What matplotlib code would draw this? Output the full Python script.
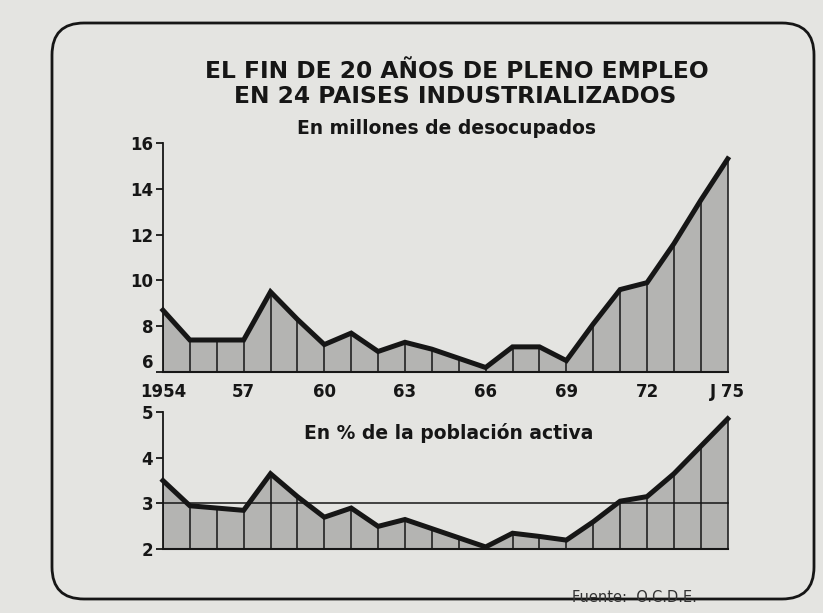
import matplotlib.pyplot as plt
from matplotlib.patches import FancyBboxPatch

# Data (1954 .. June 1975)
years = list(range(1954, 1976))
desocupados = [8.7, 7.4, 7.4, 7.4, 9.5, 8.3, 7.2, 7.7, 6.9, 7.3, 7.0, 6.6,
               6.2, 7.1, 7.1, 6.5, 8.1, 9.6, 9.9, 11.6, 13.5, 15.3]
porcentaje = [3.5, 2.95, 2.9, 2.85, 3.65, 3.15, 2.7, 2.9, 2.5, 2.65, 2.45, 2.25,
              2.05, 2.35, 2.28, 2.2, 2.6, 3.05, 3.15, 3.65, 4.25, 4.85]
xtick_pos = [1954, 1957, 1960, 1963, 1966, 1969, 1972, 1975]
xtick_lbl = ['1954', '57', '60', '63', '66', '69', '72', 'J 75']
ref_level = 3.0

BG = '#e4e4e1'
FILL = '#b4b4b2'
INK = '#161616'
plt.rcParams['font.family'] = ['DejaVu Sans']

fig = plt.figure(figsize=(8.23, 6.13), dpi=100, facecolor=BG)

# rounded frame
frame = FancyBboxPatch((0.52, 0.14), 7.62, 5.76, boxstyle='round,pad=0,rounding_size=0.32',
                       transform=fig.dpi_scale_trans, fill=False, lw=2, ec=INK)
fig.patches.append(frame)

fig.text(0.555, 0.884, 'EL FIN DE 20 AÑOS DE PLENO EMPLEO', ha='center', va='center',
         fontsize=16.8, fontweight='bold', color=INK)
fig.text(0.553, 0.843, 'EN 24 PAISES INDUSTRIALIZADOS', ha='center', va='center',
         fontsize=16.8, fontweight='bold', color=INK)


def area_panel(ax, vals, base, top, yticks):
    ax.set_facecolor('none')
    ax.fill_between(years, base, vals, color=FILL, lw=0)
    ax.vlines(years, base, vals, color=INK, lw=1.1)
    ax.plot(years, vals, color=INK, lw=3.6, solid_joinstyle='miter', clip_on=False, zorder=5)
    ax.plot([years[0], years[-1]], [base, base], color=INK, lw=1.5, clip_on=False)
    ax.set_xlim(years[0], years[-1] + 0.3)
    ax.set_ylim(base, top)
    for s in ['top', 'right', 'bottom']:
        ax.spines[s].set_visible(False)
    ax.spines['left'].set_color(INK)
    ax.spines['left'].set_linewidth(1.3)
    ax.set_yticks(yticks)
    ax.tick_params(axis='y', direction='out', length=5, width=1.3, colors=INK,
                   labelsize=12, pad=2)
    for t in ax.get_yticklabels():
        t.set_fontweight('bold')


# top panel: millions of unemployed
ax1 = fig.add_axes([0.198, 0.393, 0.696, 0.374])
area_panel(ax1, desocupados, 6, 16, [6, 8, 10, 12, 14, 16])
ax1.get_yticklabels()[0].set_va('bottom')  # keep "6" clear of "1954"
ax1.set_xticks(xtick_pos)
ax1.set_xticklabels(xtick_lbl, fontsize=12, fontweight='bold', color=INK)
ax1.tick_params(axis='x', length=0, pad=8)
fig.text(0.543, 0.791, 'En millones de desocupados', ha='center', va='center',
         fontsize=13.5, fontweight='bold', color=INK)

# bottom panel: % of active population
ax2 = fig.add_axes([0.198, 0.104, 0.696, 0.224])
area_panel(ax2, porcentaje, 2, 5, [2, 3, 4, 5])
ax2.plot([years[0], years[-1]], [ref_level, ref_level], color=INK, lw=1.1, zorder=4)
ax2.set_xticks([])
fig.text(0.545, 0.293, 'En % de la población activa', ha='center', va='center',
         fontsize=13.5, fontweight='bold', color=INK)

fig.text(0.695, 0.026, 'Fuente:  O.C.D.E.', ha='left', va='center', fontsize=10.5, color='#333333')

fig.savefig('out.png', dpi=100, facecolor=BG)
